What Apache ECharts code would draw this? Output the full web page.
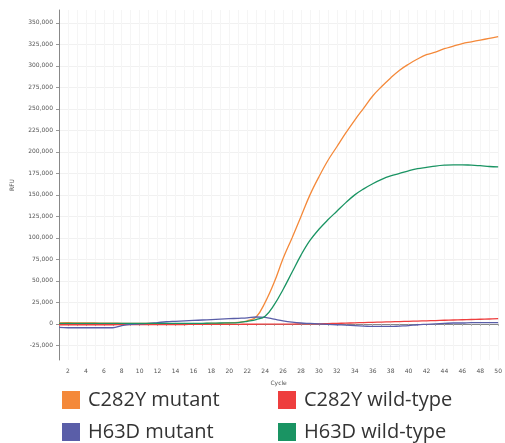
<!DOCTYPE html>
<html>
<head>
<meta charset="utf-8">
<script src="https://cdn.jsdelivr.net/npm/echarts@6/dist/echarts.min.js"></script>
<style>
  html, body { margin: 0; padding: 0; background: #ffffff; }
  #chart { width: 505px; height: 443px; }
</style>
</head>
<body>
<div id="chart"></div>
<script>
// Real-time PCR amplification curves (RFU per cycle), HFE genotyping
const cycles = Array.from({ length: 50 }, (_, i) => i + 1);

const c282yMutant = [
  1200, 1300, 1200, 1100, 1000, 900, 800, 700, 600, 500,
  500, 400, 400, 300, 300, 300, 400, 500, 700, 1000,
  1800, 3500, 8000, 25000, 48000, 76000, 100000, 125000, 150000, 171000,
  190000, 206000, 222000, 237000, 251000, 265000, 276000, 286000, 295000, 302000,
  308000, 313000, 316000, 320000, 323000, 326000, 328000, 330000, 332000, 334000
];

const c282yWildType = [
  -1000, -1000, -1000, -1000, -1000, -1000, -1000, -900, -900, -800,
  -800, -800, -700, -700, -700, -600, -600, -600, -500, -500,
  -500, -400, -400, -300, -300, -200, -200, -100, 0, 0,
  300, 600, 900, 1200, 1500, 1800, 2100, 2400, 2700, 3000,
  3300, 3600, 3900, 4200, 4500, 4800, 5100, 5400, 5700, 6000
];

const h63dMutant = [
  -4000, -4500, -4500, -4500, -4500, -4500, -4500, -2000, -500, 0,
  500, 1500, 2500, 3000, 3500, 4000, 4500, 5000, 5500, 6000,
  6500, 7000, 8000, 7500, 5500, 3500, 2000, 1000, 500, 0,
  -500, -1000, -1500, -2000, -2500, -3000, -3000, -3000, -2500, -2000,
  -1000, -500, 0, 500, 1000, 1000, 1500, 1500, 1500, 1500
];

const h63dWildType = [
  500, 500, 500, 500, 500, 500, 500, 500, 500, 500,
  500, 500, 500, 500, 500, 600, 700, 800, 1000, 1200,
  1500, 3000, 5000, 9000, 22000, 40000, 60000, 80000, 97000, 110000,
  121000, 131000, 141000, 150000, 157000, 163000, 168000, 172000, 175000, 178000,
  180500, 182000, 183500, 184500, 185000, 185000, 184500, 184000, 183000, 182500
];

const yTicks = [-25000, 0, 25000, 50000, 75000, 100000, 125000, 150000, 175000,
  200000, 225000, 250000, 275000, 300000, 325000, 350000];

const seriesNames = ['C282Y mutant', 'C282Y wild-type', 'H63D mutant', 'H63D wild-type'];
const seriesColors = ['#F4893A', '#EE3E3E', '#5A5EA8', '#1A9463'];
const seriesData = [c282yMutant, c282yWildType, h63dMutant, h63dWildType];

// legend laid out as a 2 x 2 block under the plot
const legendLeft = [57, 273, 57, 273];
const legendTop = [385, 385, 417, 417];

const chart = echarts.init(document.getElementById('chart'), null, { renderer: 'canvas' });

const tickFont = { fontFamily: 'DejaVu Sans', fontSize: 6, color: '#555' };

chart.setOption({
  animation: false,
  backgroundColor: '#ffffff',
  grid: { left: 59, right: 3, top: 10, bottom: 83 },
  xAxis: {
    type: 'value',
    min: 1,
    max: 50,
    interval: 1,
    name: 'Cycle',
    nameLocation: 'middle',
    nameGap: 20,
    nameTextStyle: tickFont,
    axisLine: { lineStyle: { color: '#888', width: 1 } },
    axisTick: { show: true, length: 2, lineStyle: { color: '#aaa' } },
    axisLabel: {
      ...tickFont,
      margin: 8,
      formatter: v => (v % 2 === 0 ? String(v) : '')
    },
    splitLine: { show: true, lineStyle: { color: '#f5f5f5', width: 1 } }
  },
  yAxis: {
    type: 'value',
    min: -42000,
    max: 365000,
    name: 'RFU',
    nameLocation: 'middle',
    nameGap: 44,
    nameRotate: 90,
    nameTextStyle: tickFont,
    axisLine: { show: true, lineStyle: { color: '#888', width: 1 } },
    axisTick: { show: true, length: 3, customValues: yTicks, lineStyle: { color: '#999' } },
    axisLabel: {
      ...tickFont,
      margin: 6,
      customValues: yTicks,
      formatter: v => v.toLocaleString('en-US')
    },
    splitLine: { show: true, lineStyle: { color: '#f1f1f1', width: 1 } }
  },
  legend: seriesNames.map((name, i) => ({
    left: legendLeft[i],
    top: legendTop[i],
    itemWidth: 18,
    itemHeight: 18,
    icon: 'rect',
    data: [name],
    textStyle: { fontFamily: 'Open Sans', fontSize: 20, color: '#333', padding: [0, 0, 0, 3] }
  })),
  series: seriesNames.map((name, i) => ({
    name,
    type: 'line',
    data: cycles.map((c, j) => [c, seriesData[i][j]]),
    smooth: 0.4,
    showSymbol: false,
    lineStyle: { color: seriesColors[i], width: 1.3 },
    itemStyle: { color: seriesColors[i] }
  }))
});
</script>
</body>
</html>
